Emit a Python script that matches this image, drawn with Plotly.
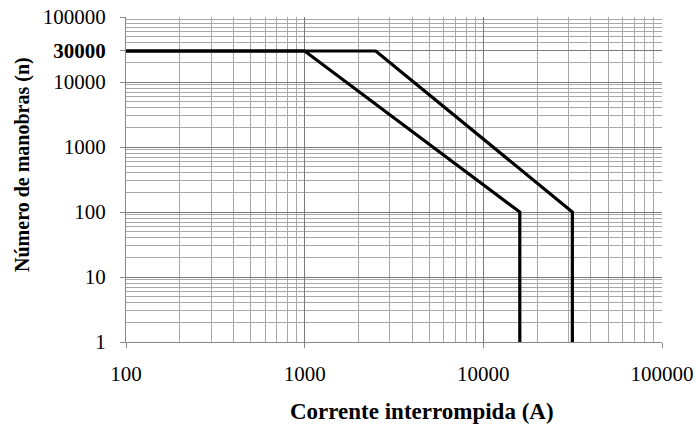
import plotly.graph_objects as go

# Data
curve1_current = [100, 1000, 16000, 16000]
curve1_ops = [30000, 30000, 100, 1]
curve2_current = [100, 2500, 31500, 31500]
curve2_ops = [30000, 30000, 100, 1]

x_tickvals = [100, 1000, 10000, 100000]
x_ticktext = ["100", "1000", "10000", "100000"]
y_tickvals = [1, 10, 100, 1000, 10000, 30000, 100000]
y_ticktext = ["1", "10", "100", "1000", "10000", "<b>30000</b>", "100000"]

x_title = "Corrente interrompida (A)"
y_title = "Número de manobras (n)"

minor_x = [m * 10 ** k for k in range(2, 5) for m in range(2, 10)]
minor_y = [m * 10 ** k for k in range(0, 5) for m in range(2, 10)]

font_family = "Liberation Serif, Times New Roman, serif"

fig = go.Figure()
for xs, ys in [(curve1_current, curve1_ops), (curve2_current, curve2_ops)]:
    fig.add_trace(go.Scatter(x=xs, y=ys, mode="lines",
                             line=dict(color="black", width=3.2),
                             showlegend=False, hoverinfo="skip", cliponaxis=False))

axis_common = dict(
    type="log",
    automargin=False,
    showgrid=True,
    gridcolor="#7a7a7a",
    gridwidth=1,
    showline=True,
    linecolor="#888888",
    linewidth=1,
    ticks="outside",
    ticklen=5,
    tickcolor="#888888",
    tickfont=dict(family=font_family, size=21, color="black"),
    zeroline=False,
    mirror=False,
)

fig.update_xaxes(
    **axis_common,
    range=[2, 5],
    tickvals=x_tickvals,
    ticktext=x_ticktext,
    ticklabelstandoff=8,
    minor=dict(tickvals=minor_x, showgrid=True, gridcolor="#a8a8a8", gridwidth=1, ticks=""),
)
fig.update_yaxes(
    **axis_common,
    range=[0, 5],
    tickvals=y_tickvals,
    ticktext=y_ticktext,
    ticklabelstandoff=10,
    minor=dict(tickvals=minor_y, showgrid=True, gridcolor="#a8a8a8", gridwidth=1, ticks=""),
)

fig.add_annotation(text=f"<b>{x_title}</b>", xref="paper", yref="paper",
                   x=0.552, y=-0.213, xanchor="center", yanchor="middle",
                   showarrow=False,
                   font=dict(family=font_family, size=23, color="black"))
fig.add_annotation(text=f"<b>{y_title}</b>", xref="paper", yref="paper",
                   x=-0.192, y=0.545, xanchor="center", yanchor="middle",
                   textangle=-90, showarrow=False,
                   font=dict(family=font_family, size=20, color="black"))

fig.update_layout(
    width=696, height=426,
    margin=dict(l=126, r=34, t=17, b=84),
    plot_bgcolor="white",
    paper_bgcolor="white",
)

fig.write_html("out.html", config={"displayModeBar": False},
               post_script="document.body.style.margin='0';document.body.style.overflow='hidden';")
